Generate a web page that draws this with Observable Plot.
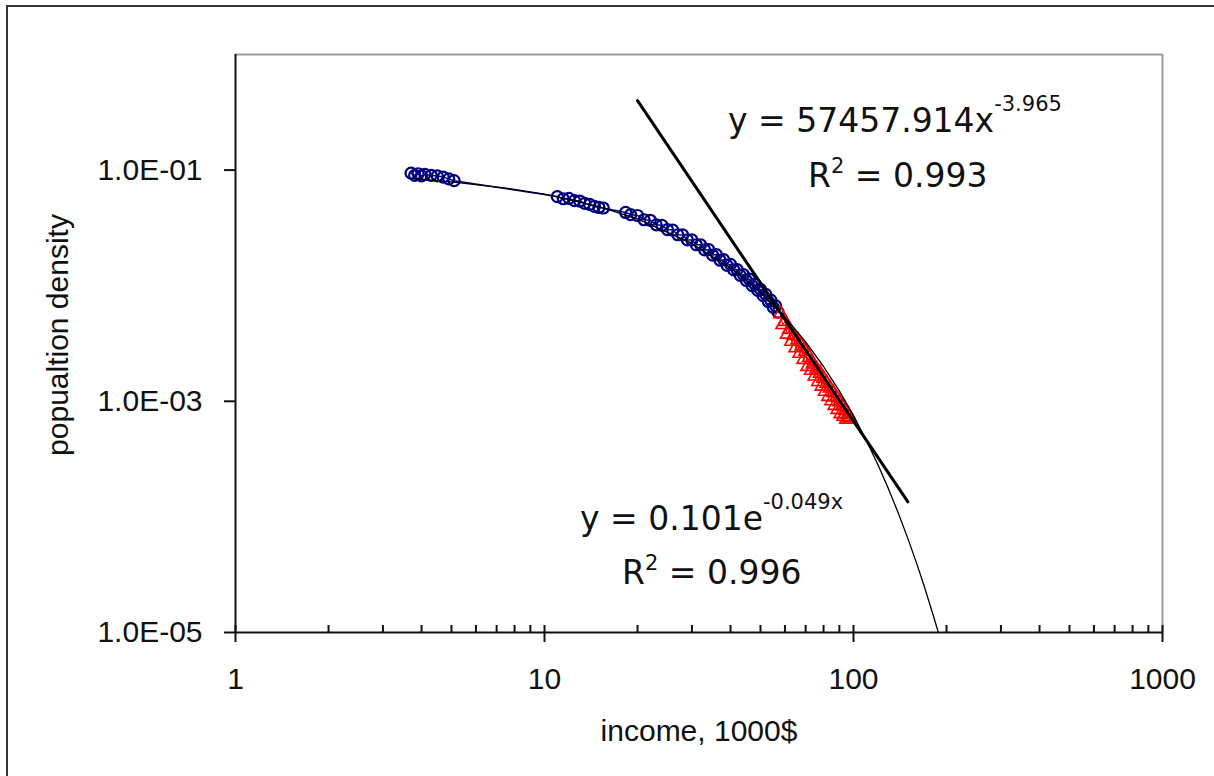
<!DOCTYPE html>
<html>
<head>
<meta charset="utf-8">
<script src="https://cdn.jsdelivr.net/npm/d3@7"></script>
<script src="https://cdn.jsdelivr.net/npm/@observablehq/plot@0.6"></script>
<style>
  html, body { margin: 0; padding: 0; background: #fff; }
  #chart { width: 1214px; height: 776px; overflow: hidden; }
</style>
</head>
<body>
<div id="chart"></div>
<script>
// ---- data ----
const blueX = [3.7, 3.8, 3.9, 4.0, 4.1, 4.3, 4.5, 4.7, 4.9, 5.1,
  11, 11.5, 12, 12.5, 13, 13.5, 14, 14.5, 15, 15.5,
  18.3, 19, 20, 21, 22, 23, 24, 25, 26, 27, 28, 29, 30, 31, 32, 33, 34, 35, 36, 37, 38,
  39, 40, 41, 42, 43, 44, 45, 46, 47, 48, 49, 50, 51, 52, 53, 54, 55, 56, 57];
const blueY = [0.094, 0.090, 0.093, 0.089, 0.092, 0.090, 0.089, 0.087, 0.084, 0.081,
  0.059, 0.0565, 0.057, 0.0545, 0.054, 0.0515, 0.0505, 0.0485, 0.0475, 0.047,
  0.0430, 0.0412, 0.0405, 0.0372, 0.0368, 0.0336, 0.0333, 0.0306, 0.0303, 0.0276, 0.0275, 0.0249,
  0.0249, 0.0226, 0.0226, 0.0204, 0.0205, 0.0184, 0.0186, 0.0166, 0.0168, 0.0150, 0.0153, 0.0137,
  0.0138, 0.0123, 0.0125, 0.0111, 0.0114, 0.0100, 0.0103, 0.0091, 0.0093, 0.0082, 0.0084, 0.0073,
  0.0075, 0.0065, 0.0067, 0.0059];

const redX = [58, 59, 60, 61, 62, 63, 64, 65, 66, 67, 68, 69, 70, 71, 72, 73, 74, 75, 76, 77,
  78, 79, 80, 81, 82, 83, 84, 85, 86, 87, 88, 89, 90, 91, 92, 93, 94, 95, 96, 97];
const redY = [0.0057, 0.0046, 0.0049, 0.0038, 0.0042, 0.0033, 0.0037, 0.0029, 0.0034, 0.0026,
  0.0030, 0.0023, 0.0027, 0.0020, 0.0024, 0.00185, 0.0021, 0.00165, 0.0019, 0.00148,
  0.00175, 0.00135, 0.00158, 0.00122, 0.00143, 0.00110, 0.00130, 0.00101, 0.00119, 0.00092,
  0.00108, 0.00085, 0.00099, 0.00078, 0.00091, 0.00074, 0.00083, 0.00070, 0.00077, 0.00072];

// exponential trend line y = 0.101e^(-0.049x)
const expFitX = [3.7, 5, 7.5, 10, 15, 20, 30, 40, 50, 60, 70, 80, 90, 100, 110, 120, 130, 140, 150, 160, 170, 180, 188];
const expFitY = [0.0843, 0.0791, 0.0699, 0.0619, 0.0484, 0.0379, 0.0232, 0.0142, 0.00872, 0.00534,
  0.00327, 0.00200, 0.00123, 0.000752, 0.000461, 0.000282, 0.000173, 0.000106, 0.0000649,
  0.0000398, 0.0000244, 0.0000149, 0.0000101];

// power trend line y = 57457.914x^(-3.965)
const powFitX = [20, 150];
const powFitY = [0.399, 0.000135];

const xTickValues = [1, 10, 100, 1000];
const xTickLabels = ["1", "10", "100", "1000"];
const xMinorTicks = [2, 3, 4, 5, 6, 7, 8, 9, 20, 30, 40, 50, 60, 70, 80, 90, 200, 300, 400, 500, 600, 700, 800, 900];
const yTickValues = [1e-1, 1e-3, 1e-5];
const yTickLabels = ["1.0E-01", "1.0E-03", "1.0E-05"];

const xTitle = "income, 1000$";
const yTitle = "popualtion density";

const equations = [
  {x: 39.4, y: 0.2112, main: "y = 57457.914x", sup: "-3.965", after: ""},
  {x: 71.5, y: 0.0706, main: "R", sup: "2", after: " = 0.993"},
  {x: 13.08, y: 7.57e-5, main: "y = 0.101e", sup: "-0.049x", after: ""},
  {x: 17.88, y: 2.58e-5, main: "R", sup: "2", after: " = 0.996"}
];

// ---- layout ----
const W = 1214, H = 776;
const mL = 235, mR = 52, mT = 54, mB = 144;
const frameW = W - mL - mR, frameH = H - mT - mB;

const blue = blueX.map((x, i) => ({x, y: blueY[i]}));
const red = redX.map((x, i) => ({x, y: redY[i]}));
const expFit = expFitX.map((x, i) => ({x, y: expFitY[i]}));
const powFit = powFitX.map((x, i) => ({x, y: powFitY[i]}));

const font = "'Liberation Sans', Arial, Helvetica, sans-serif";

const plot = Plot.plot({
  width: W, height: H,
  marginLeft: mL, marginRight: mR, marginTop: mT, marginBottom: mB,
  x: {type: "log", domain: [1, 1000], axis: null},
  y: {type: "log", domain: [1e-5, 1], axis: null},
  style: {fontFamily: font, fontSize: "30px", background: "#fff", color: "#111", overflow: "visible"},
  marks: [
    Plot.ruleY([1], {stroke: "#9a9a9a", strokeWidth: 2}),
    Plot.ruleX([1000], {stroke: "#9a9a9a", strokeWidth: 2}),
    Plot.ruleX([1], {stroke: "#111", strokeWidth: 2}),
    Plot.ruleY([1e-5], {stroke: "#111", strokeWidth: 2}),
    // minor x ticks (inside)
    Plot.ruleX(xMinorTicks, {x: d => d, insetTop: frameH - 7, stroke: "#111", strokeWidth: 2}),
    // major x ticks (cross)
    Plot.ruleX(xTickValues, {x: d => d, insetTop: frameH - 7, insetBottom: -10, stroke: "#111", strokeWidth: 2}),
    // major y ticks (outside)
    Plot.ruleY(yTickValues, {y: d => d, insetLeft: -11, insetRight: frameW, stroke: "#111", strokeWidth: 2}),
    // tick labels
    Plot.text(xTickValues, {x: d => d, text: (d, i) => xTickLabels[i], frameAnchor: "bottom", dy: 56, lineAnchor: "bottom", fontSize: 30, fill: "#111"}),
    Plot.text(yTickValues, {y: d => d, text: (d, i) => yTickLabels[i], frameAnchor: "left", dx: -33, textAnchor: "end", lineAnchor: "middle", fontSize: 30, fill: "#111"}),
    // x title
    Plot.text([xTitle], {text: d => d, frameAnchor: "bottom", dy: 108, lineAnchor: "bottom", fontSize: 30, fill: "#111"}),
    // data series
    Plot.line(blue, {x: "x", y: "y", stroke: "#000080", strokeWidth: 1.5}),
    Plot.dot(blue, {x: "x", y: "y", r: 5.5, stroke: "#000080", strokeWidth: 2.2, fill: "none"}),
    Plot.line(red, {x: "x", y: "y", stroke: "#ff0000", strokeWidth: 1}),
    Plot.dot(red, {x: "x", y: "y", r: 5, symbol: "triangle", stroke: "#ff0000", strokeWidth: 1.6, fill: "none"}),
    // trend lines
    Plot.line(expFit, {x: "x", y: "y", stroke: "#000", strokeWidth: 1.3}),
    Plot.line(powFit, {x: "x", y: "y", stroke: "#000", strokeWidth: 3})
  ]
});

document.getElementById("chart").appendChild(plot);

const svg = d3.select(plot);
const sx = plot.scale("x"), sy = plot.scale("y");
const px = v => sx.apply ? sx.apply(v) : mL + frameW * Math.log10(v) / 3;
const py = v => sy.apply ? sy.apply(v) : mT + frameH * (-Math.log10(v)) / 5;

// y title
svg.append("text")
  .attr("transform", `translate(68, ${mT + frameH / 2 - 8}) rotate(-90)`)
  .attr("text-anchor", "middle")
  .attr("font-family", font)
  .attr("font-size", 30)
  .attr("fill", "#111")
  .text(yTitle);

// trend line equations
equations.forEach(e => {
  const t = svg.append("text")
    .attr("x", px(e.x)).attr("y", py(e.y))
    .attr("text-anchor", "start")
    .attr("font-family", "'DejaVu Sans', Verdana, sans-serif")
    .attr("font-size", 33)
    .attr("fill", "#111");
  t.append("tspan").text(e.main);
  const supShift = e.main === "R" ? -14 : -21;
  t.append("tspan").attr("dy", supShift).attr("font-size", 21).text(e.sup);
  if (e.after) t.append("tspan").attr("dy", -supShift).text(e.after);
});

// outer chart border
svg.append("rect")
  .attr("x", 7).attr("y", 6).attr("width", W + 20).attr("height", H + 20)
  .attr("fill", "none").attr("stroke", "#333").attr("stroke-width", 2);
</script>
</body>
</html>
